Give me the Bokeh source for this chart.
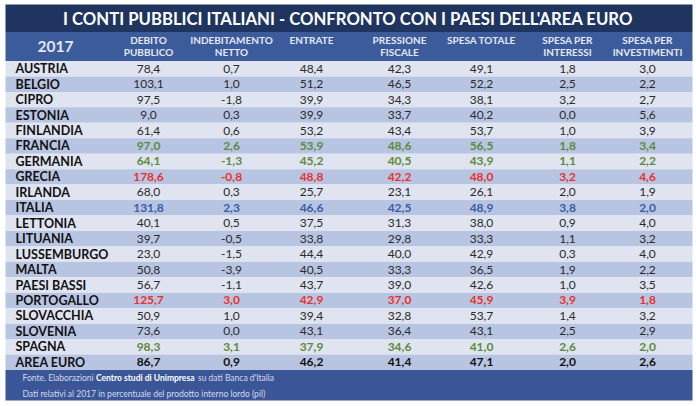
from bokeh.plotting import figure
from bokeh.models import ColumnDataSource, Range1d
from bokeh.core.properties import value
from bokeh.embed import file_html
from bokeh.resources import INLINE

TITLE = "I CONTI PUBBLICI ITALIANI - CONFRONTO CON I PAESI DELL'AREA EURO"
YEAR = "2017"
headers = [["DEBITO", "PUBBLICO"], ["INDEBITAMENTO", "NETTO"], ["ENTRATE"],
           ["PRESSIONE", "FISCALE"], ["SPESA TOTALE"], ["SPESA PER", "INTERESSI"],
           ["SPESA PER", "INVESTIMENTI"]]

countries = ["AUSTRIA", "BELGIO", "CIPRO", "ESTONIA", "FINLANDIA", "FRANCIA", "GERMANIA",
             "GRECIA", "IRLANDA", "ITALIA", "LETTONIA", "LITUANIA", "LUSSEMBURGO", "MALTA",
             "PAESI BASSI", "PORTOGALLO", "SLOVACCHIA", "SLOVENIA", "SPAGNA", "AREA EURO"]
debito = [78.4, 103.1, 97.5, 9.0, 61.4, 97.0, 64.1, 178.6, 68.0, 131.8, 40.1, 39.7, 23.0,
          50.8, 56.7, 125.7, 50.9, 73.6, 98.3, 86.7]
indebitamento = [0.7, 1.0, -1.8, 0.3, 0.6, 2.6, -1.3, -0.8, 0.3, 2.3, 0.5, -0.5, -1.5,
                 -3.9, -1.1, 3.0, 1.0, 0.0, 3.1, 0.9]
entrate = [48.4, 51.2, 39.9, 39.9, 53.2, 53.9, 45.2, 48.8, 25.7, 46.6, 37.5, 33.8, 44.4,
           40.5, 43.7, 42.9, 39.4, 43.1, 37.9, 46.2]
pressione = [42.3, 46.5, 34.3, 33.7, 43.4, 48.6, 40.5, 42.2, 23.1, 42.5, 31.3, 29.8, 40.0,
             33.3, 39.0, 37.0, 32.8, 36.4, 34.6, 41.4]
spesa_totale = [49.1, 52.2, 38.1, 40.2, 53.7, 56.5, 43.9, 48.0, 26.1, 48.9, 38.0, 33.3, 42.9,
                36.5, 42.6, 45.9, 53.7, 43.1, 41.0, 47.1]
interessi = [1.8, 2.5, 3.2, 0.0, 1.0, 1.8, 1.1, 3.2, 2.0, 3.8, 0.9, 1.1, 0.3, 1.9, 1.0,
             3.9, 1.4, 2.5, 2.6, 2.0]
investimenti = [3.0, 2.2, 2.7, 5.6, 3.9, 3.4, 2.2, 4.6, 1.9, 2.0, 4.0, 3.2, 4.0, 2.2, 3.5,
                1.8, 3.2, 2.9, 2.0, 2.6]
highlight = ["", "", "", "", "", "green", "green", "red", "", "blue", "", "", "", "", "",
             "red", "", "", "green", "total"]
footer_parts = ["Fonte. Elaborazioni", "Centro studi di Unimpresa", "su dati Banca d'Italia"]
footer_line2 = "Dati relativi al 2017 in percentuale del prodotto interno lordo (pil)"

columns = [debito, indebitamento, entrate, pressione, spesa_totale, interessi, investimenti]

# layout (page pixel units)
W, H = 696, 406
LEFT, RIGHT = 5, 692
TITLE_TOP, TITLE_BOT = 4, 31.5
HEAD_BOT = 60.5
ROW_H = 15.45
FOOT_BOT = 400
NAME_X = 15
COL_X = [148, 231, 311, 399, 481, 567, 647]
FOOT_X = [22, 95.5, 197.5]

FONT = value("Lato")
NAVY = "#1f355f"
HEAD_BG = "#3c5b9b"
FOOT_BG = "#3a5697"
LIGHT = "#dfe4f0"
DARK = "#b8c5e2"
HEAD_TXT = "#e2e8f4"
color_map = {"": "#2a2a2a", "green": "#5b8a3c", "red": "#e8312b", "blue": "#3b5ba5", "total": "#111111"}

n = len(countries)
row_top = [HEAD_BOT + i * ROW_H for i in range(n)]
row_bot = [t + ROW_H for t in row_top]
row_mid = [t + ROW_H / 2 for t in row_top]
foot_top = row_bot[-1]

p = figure(width=W, height=H, output_backend="svg", toolbar_location=None,
           x_axis_location=None, y_axis_location=None, min_border=0,
           x_range=Range1d(0, W), y_range=Range1d(H, 0))
p.grid.visible = False
p.outline_line_color = None
p.background_fill_color = "white"
p.border_fill_color = "white"

# backgrounds
p.quad(left=LEFT, right=RIGHT, top=TITLE_TOP, bottom=TITLE_BOT, fill_color=NAVY, line_color=None)
p.quad(left=LEFT, right=RIGHT, top=TITLE_BOT, bottom=HEAD_BOT, fill_color=HEAD_BG, line_color=None)
rows_src = ColumnDataSource(dict(top=row_top, bottom=row_bot,
                                 color=[LIGHT if i % 2 == 0 else DARK for i in range(n)]))
p.quad(left=LEFT, right=RIGHT, top="top", bottom="bottom", fill_color="color",
       line_color=None, source=rows_src)
p.quad(left=LEFT, right=RIGHT, top=foot_top, bottom=FOOT_BOT, fill_color=FOOT_BG, line_color=None)

# title
p.text(x=[(LEFT + RIGHT) / 2 - 1], y=[(TITLE_TOP + TITLE_BOT) / 2 + 1], text=[TITLE],
       text_align="center", text_baseline="middle", text_font=FONT,
       text_font_size="16.7px", text_font_style="bold", text_color="white")

# header
p.text(x=[55], y=[(TITLE_BOT + HEAD_BOT) / 2], text=[YEAR], text_align="center",
       text_baseline="middle", text_font=FONT, text_font_size="15.5px",
       text_font_style="bold", text_color=HEAD_TXT)
hx, hy, ht = [], [], []
for cx, lines in zip(COL_X, headers):
    for k, line in enumerate(lines):
        hx.append(cx)
        hy.append(TITLE_BOT + 7.5 + k * 12.5)
        ht.append(line)
p.text(x=hx, y=hy, text=ht, text_align="center", text_baseline="middle", text_font=FONT,
       text_font_size="10px", text_font_style="bold", text_color=HEAD_TXT)

# country names
p.text(x=[NAME_X] * n, y=row_mid, text=countries, text_align="left", text_baseline="middle",
       text_font=FONT, text_font_size="12.5px", text_font_style="bold", text_color="#111111")

# values
vx, vy, vt, vc, vs = [], [], [], [], []
for cx, col in zip(COL_X, columns):
    for i, v in enumerate(col):
        vx.append(cx)
        vy.append(row_mid[i])
        vt.append(f"{v:.1f}".replace(".", ","))
        vc.append(color_map[highlight[i]])
        vs.append("bold" if highlight[i] else "normal")
val_src = ColumnDataSource(dict(x=vx, y=vy, text=vt, color=vc, style=vs))
p.text(x="x", y="y", text="text", text_color="color", text_font_style="style",
       text_align="center", text_baseline="middle", text_font=FONT, text_font_size="12px",
       source=val_src)

# footer
FOOT_TXT = "#d3dbee"
FS = "8.5px"
fy1 = foot_top + 8
fy2 = foot_top + 23.5
p.text(x=[FOOT_X[0]], y=[fy1], text=[footer_parts[0]], text_align="left", text_baseline="middle",
       text_font=FONT, text_font_size=FS, text_color=FOOT_TXT)
p.text(x=[FOOT_X[1]], y=[fy1], text=[footer_parts[1]], text_align="left", text_baseline="middle",
       text_font=FONT, text_font_size=FS, text_font_style="bold", text_color="white")
p.text(x=[FOOT_X[2]], y=[fy1], text=[footer_parts[2]], text_align="left", text_baseline="middle",
       text_font=FONT, text_font_size=FS, text_color=FOOT_TXT)
p.text(x=[FOOT_X[0]], y=[fy2], text=[footer_line2], text_align="left", text_baseline="middle",
       text_font=FONT, text_font_size=FS, text_color=FOOT_TXT)

open("out.html", "w").write(file_html(p, INLINE))
